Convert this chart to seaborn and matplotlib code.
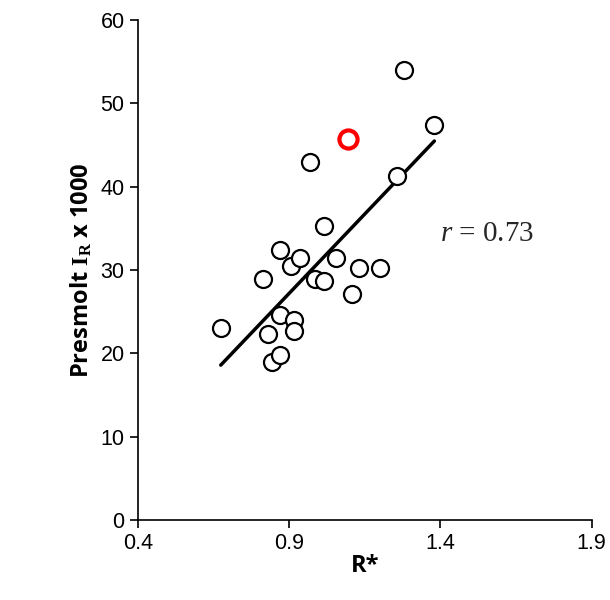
import numpy as np
import pandas as pd
import matplotlib
matplotlib.use("Agg")
import matplotlib.pyplot as plt
import seaborn as sns

r_star = [0.674, 0.815, 0.831, 0.844, 0.87, 0.87, 0.87, 0.905, 0.915, 0.915, 0.935,
          0.97, 0.987, 1.016, 1.016, 1.055, 1.108, 1.13, 1.20, 1.257, 1.28, 1.38]
ir = [23.0, 28.9, 22.3, 19.0, 32.4, 24.6, 19.8, 30.5, 24.0, 22.7, 31.4,
      43.0, 28.9, 28.7, 35.3, 31.4, 27.1, 30.2, 30.2, 41.3, 54.0, 47.4]
red_x = [1.095]
red_y = [45.7]

sns.set_style("ticks")
plt.rcParams['font.family'] = ['Liberation Sans', 'DejaVu Sans']
plt.rcParams['mathtext.fontset'] = 'custom'
plt.rcParams['mathtext.rm'] = 'Liberation Serif'
plt.rcParams['mathtext.it'] = 'Liberation Serif:italic'
plt.rcParams['mathtext.bf'] = 'Liberation Serif:bold'
fig = plt.figure(figsize=(6.1, 6.0), dpi=100)
ax = fig.add_axes([0.226, 0.133, 0.744, 0.834])

df = pd.DataFrame({"x": r_star, "y": ir})
sns.regplot(data=df, x="x", y="y", ax=ax, ci=None, truncate=True,
            scatter_kws=dict(s=150, facecolors="white", edgecolors="black", linewidths=1.6, alpha=1, zorder=3),
            line_kws=dict(color="black", lw=2.5, zorder=2))
sns.scatterplot(x=red_x, y=red_y, ax=ax, s=170, facecolor="white", edgecolor="red", linewidth=3, zorder=4)

ax.set_xlim(0.4, 1.9)
ax.set_ylim(0, 60)
ax.set_xticks([0.4, 0.9, 1.4, 1.9])
ax.set_yticks(range(0, 61, 10))
ax.tick_params(labelsize=15.5, direction="out", length=6, width=1.2, colors="black")
for s in ["left", "bottom"]:
    ax.spines[s].set_linewidth(1.2)
    ax.spines[s].set_color("black")
sns.despine(ax=ax)
ax.set_xlabel("R*", fontsize=17, fontweight="bold", labelpad=0, family="Open Sans", color="black")
ax.set_ylabel(r"Presmolt $\mathbf{I_R}$ x 1000", fontsize=17, fontweight="bold", family="Open Sans", color="black")
ax.text(1.40, 33.5, r"$r$ = 0.73", fontsize=21, family="Liberation Serif")
fig.savefig("out.png", dpi=100)
